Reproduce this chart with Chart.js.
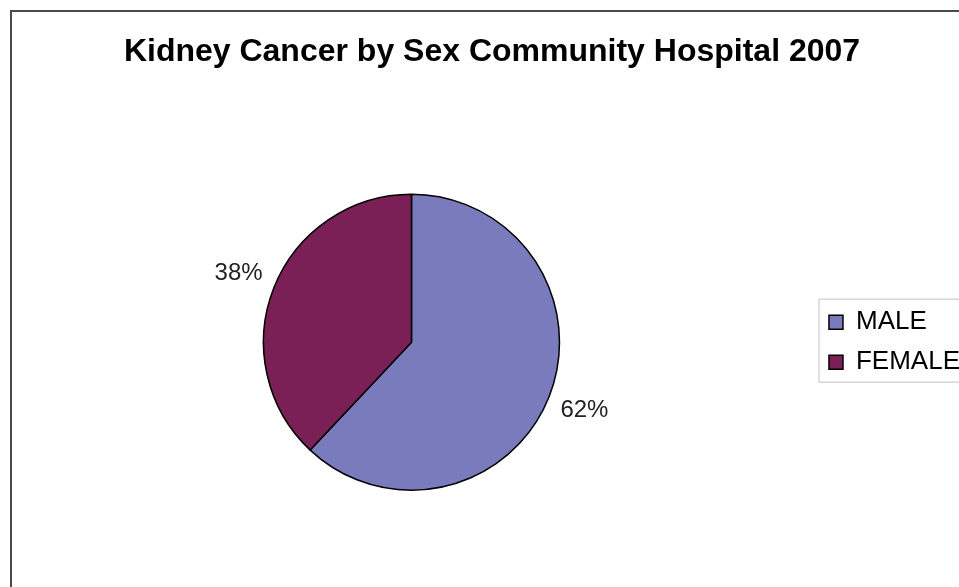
<!DOCTYPE html>
<html>
<head>
<meta charset="utf-8">
<script src="https://cdn.jsdelivr.net/npm/chart.js@4"></script>
<style>
  html, body { margin: 0; padding: 0; background: #fff; overflow: hidden; }
  #wrap { width: 970px; height: 587px; }
</style>
</head>
<body>
<div id="wrap"><canvas id="kidneyChart" width="970" height="587"></canvas></div>
<script>
const titleText = 'Kidney Cancer by Sex Community Hospital 2007';
const sexLabels = ['MALE', 'FEMALE'];
const sharePct = [62, 38];
const sliceColors = ['#7a7bbd', '#7b1f57'];

const FONT = '"Liberation Sans", Arial, sans-serif';

// white background plus the outer frame (only its left and top edges are in view)
const framePlugin = {
  id: 'frame',
  beforeDraw(chart) {
    const ctx = chart.ctx;
    ctx.save();
    ctx.fillStyle = '#fff';
    ctx.fillRect(0, 0, chart.width, chart.height);
    ctx.strokeStyle = '#4a4a4a';
    ctx.lineWidth = 2;
    ctx.beginPath();
    ctx.moveTo(11, chart.height);
    ctx.lineTo(11, 11);
    ctx.lineTo(chart.width, 11);
    ctx.stroke();
    ctx.restore();
  }
};

// title sits slightly right of the canvas centre; legend is centred on the plot area only
const layoutTweakPlugin = {
  id: 'layoutTweak',
  afterLayout(chart) {
    chart.titleBlock.left += 3;
    chart.titleBlock.right += 3;
    chart.legend.top = chart.chartArea.top;
  }
};

// percentage labels just outside each slice
const pctLabelPlugin = {
  id: 'pctLabels',
  afterDatasetsDraw(chart) {
    const ctx = chart.ctx;
    const meta = chart.getDatasetMeta(0);
    ctx.save();
    ctx.font = '24px ' + FONT;
    ctx.fillStyle = '#222';
    ctx.textAlign = 'center';
    ctx.textBaseline = 'middle';
    meta.data.forEach((arc, i) => {
      const p = arc.getProps(['x', 'y', 'startAngle', 'endAngle', 'outerRadius'], true);
      const mid = (p.startAngle + p.endAngle) / 2;
      const r = p.outerRadius + 38;
      ctx.fillText(sharePct[i] + '%', p.x + Math.cos(mid) * r, p.y + Math.sin(mid) * r);
    });
    ctx.restore();
  }
};

// thin grey box around the legend items
const legendBoxPlugin = {
  id: 'legendBox',
  afterDraw(chart) {
    const lg = chart.legend;
    const boxes = lg.legendHitBoxes;
    if (!boxes || !boxes.length) return;
    const last = boxes[boxes.length - 1];
    const top = boxes[0].top - 10;
    const bottom = last.top + last.height + 7;
    const left = boxes[0].left - 10;
    const ctx = chart.ctx;
    ctx.save();
    ctx.strokeStyle = '#d6d6d6';
    ctx.lineWidth = 1.5;
    ctx.strokeRect(left, top, chart.width - left + 10, bottom - top);
    ctx.restore();
  }
};

new Chart(document.getElementById('kidneyChart'), {
  type: 'pie',
  data: {
    labels: sexLabels,
    datasets: [{
      data: sharePct,
      backgroundColor: sliceColors,
      borderColor: '#000',
      borderWidth: 1.5,
      radius: 148
    }]
  },
  options: {
    responsive: false,
    animation: false,
    layout: { padding: { left: 8, right: 0, top: 0, bottom: 0 } },
    plugins: {
      title: {
        display: true,
        text: titleText,
        color: '#000',
        font: { family: FONT, size: 32, weight: 'bold' },
        padding: { top: 33, bottom: 26 }
      },
      legend: {
        position: 'right',
        labels: {
          boxWidth: 14,
          boxHeight: 14,
          padding: 14,
          color: '#000',
          font: { family: FONT, size: 26 }
        }
      },
      tooltip: { enabled: false }
    }
  },
  plugins: [framePlugin, layoutTweakPlugin, pctLabelPlugin, legendBoxPlugin]
});
</script>
</body>
</html>
